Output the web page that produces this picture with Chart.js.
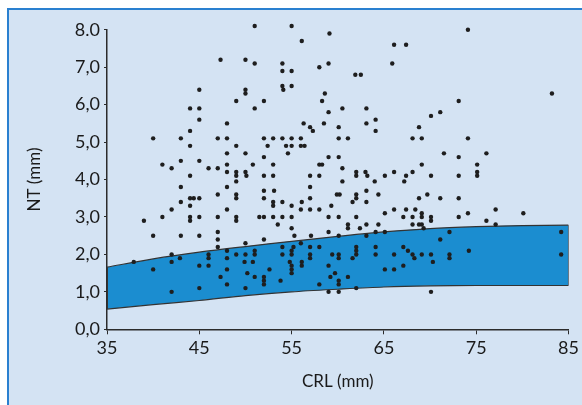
<!DOCTYPE html>
<html>
<head>
<meta charset="utf-8">
<script src="https://cdn.jsdelivr.net/npm/chart.js@4/dist/chart.umd.min.js"></script>
<style>
  body { margin: 0; background: #fff; }
  #wrap { width: 582px; height: 405px; }
</style>
</head>
<body>
<div id="wrap"><canvas id="chart" width="582" height="405"></canvas></div>
<script>
// scatter points: CRL (mm) and NT (mm)
const crl = [
  51,47.3,50,51,45,50,50,44,45,49,51,45,48,44,40,43,47,48,44,49,48,50,43,45,41,42,46,47,48,50.8,44,48,49,49,50,50.1,
  55,56.1,59.1,66.1,67.4,54,54,55,58,59,65.9,54,54.1,55,61.9,62.5,52,58.6,58.3,59,60.5,63.1,64.1,63.1,64.1,68.8,56.3,57,57.3,58.5,60.1,
  52,53,54,55,56,60.1,61.1,68.1,52.4,54.4,55,56,56.4,54.6,52,59,60.1,53,58,58.3,60.5,52,53,57,58,62,62,63,63.2,65.1,66.1,67.4,68.1,
  74.1,83.2,73.1,70.1,71.1,69.1,74.1,71.5,73.1,76.1,69.1,75.1,70.1,73.1,75.1,75.1,
  49,43,48,43,44,44.4,45,44,47,49,49,42,48,39,41,44,44,45,47,49,49,51.5,40,43,45,47,47,47,42,42.9,37.9,42,40,45,46,46,46,
  48,48,48,48,47.3,49,50,50,49.9,50.2,51,51,50.8,51,50,42,45,
  60.5,64,67.2,52,53.1,57,59.9,60.2,62,62,63.1,64.4,52,53,53,54,56.1,55,57,59.3,61.6,63.1,68.8,56,57,58,66.1,67.4,68.4,65.1,
  52,53,54,55,59,60.1,62,67.1,68.1,53.5,55,61.1,61.1,62.4,63.1,64.4,68.1,68.8,52,55.3,57.1,59,60.1,63.1,64.1,65.1,56,
  54,54,55.2,55,55,57,58,57,57,59.4,60.1,60.1,62,62,62,61.6,64.1,64.1,66.1,67.1,67.6,68.1,68.3,
  52.6,54.8,55,55,55,56.1,56.1,59,59.7,59.2,61.1,65.1,66.1,67.1,52,52,52,53.8,58,60.1,60.1,62,59,60.1,
  69.7,71.1,73.1,69.1,69.1,70.1,70.1,73.1,74.1,77.1,80.1,76.1,77.1,69.1,69.3,72.1,71.1,74.2,69.1,70.1,70.3,72.1,72.1,84.2,84.2,70.1
];
const nt = [
  8.1,7.2,7.2,7.1,6.4,6.4,6.3,5.9,5.9,6.1,5.9,5.6,5.5,5.3,5.1,5.1,5.1,5.1,4.9,4.9,4.7,4.7,4.5,4.5,4.4,4.3,4.3,4.3,4.4,4.4,4.1,4.2,4.2,4.1,4.2,4.1,
  8.1,7.7,7.9,7.6,7.6,7.1,6.9,6.9,7.0,7.1,7.1,6.5,6.4,6.5,6.8,6.8,6.1,6.3,6.1,5.8,5.9,5.9,5.6,5.5,5.3,5.4,5.5,5.4,5.3,5.5,5.4,
  5.1,5.1,5.1,5.1,5.1,5.1,5.1,5.1,4.9,4.9,4.9,4.9,4.9,4.7,4.6,4.6,4.6,4.4,4.4,4.4,4.3,4.1,4.1,4.1,4.1,4.2,4.1,4.2,4.1,4.1,4.2,4.1,4.2,
  8.0,6.3,6.1,5.7,5.8,5.1,5.1,4.7,4.6,4.7,4.4,4.4,4.1,4.1,4.2,4.1,
  3.95,3.8,3.8,3.4,3.5,3.5,3.5,3.3,3.6,3.6,3.5,3.2,3.2,2.9,3.0,3.0,2.9,3.0,3.0,3.0,2.9,3.0,2.5,2.5,2.5,2.6,2.4,2.2,2.0,1.9,1.8,1.8,1.6,1.7,2.0,1.9,1.7,
  2.1,1.9,1.6,1.2,1.4,2.0,2.3,2.0,1.8,1.5,2.1,2.0,1.8,1.4,1.1,1.0,1.1,
  3.95,3.95,3.95,3.7,3.7,3.8,3.6,3.6,3.6,3.5,3.7,3.6,3.5,3.4,3.3,3.4,3.4,3.3,3.5,3.3,3.4,3.4,3.5,3.2,3.2,3.2,3.2,3.2,3.2,3.1,
  3.0,3.0,3.0,3.0,3.0,3.0,3.0,3.0,3.0,2.8,2.7,2.8,2.7,2.7,2.8,2.8,2.8,2.8,2.4,2.5,2.5,2.6,2.5,2.5,2.6,2.6,2.3,
  2.2,2.0,2.2,2.1,2.0,2.2,2.2,2.0,1.9,2.0,2.0,1.9,2.2,2.1,2.0,1.9,2.2,2.0,2.0,2.2,2.1,2.0,1.9,
  1.6,1.8,1.7,1.6,1.5,1.8,1.7,1.7,1.5,1.4,1.4,1.6,1.6,1.7,1.4,1.3,1.2,1.3,1.2,1.3,1.2,1.1,1.0,1.0,
  3.6,3.5,3.5,3.1,3.0,3.0,2.9,3.0,3.1,3.2,3.1,2.9,2.8,2.8,2.7,2.6,2.4,2.1,2.0,2.0,1.8,2.0,1.9,2.6,2.0,1.0
];

// reference band (upper and lower limits)
const bandCrl = [35, 40, 45, 50, 55, 60, 65, 70, 75, 80, 85];
const bandUpper = [1.66, 1.88, 2.06, 2.21, 2.35, 2.48, 2.60, 2.69, 2.74, 2.77, 2.78];
const bandLower = [0.54, 0.66, 0.77, 0.90, 1.00, 1.07, 1.13, 1.16, 1.17, 1.17, 1.17];

const xTicks = [35, 45, 55, 65, 75, 85];
const yTickLabels = ["0,0", "1,0", "2,0", "3,0", "4,0", "5,0", "6,0", "7,0", "8.0"];

const points = crl.map((x, i) => ({ x: x, y: nt[i] }));
const lower = bandCrl.map((x, i) => ({ x: x, y: bandLower[i] }));
const upper = bandCrl.map((x, i) => ({ x: x, y: bandUpper[i] }));
const last = bandCrl.length - 1;

const panel = {
  id: "panel",
  beforeDraw(chart) {
    const ctx = chart.ctx;
    ctx.save();
    ctx.fillStyle = "#ffffff";
    ctx.fillRect(0, 0, chart.width, chart.height);
    ctx.fillStyle = "#d4e3f3";
    ctx.fillRect(7, 8, chart.width - 7, chart.height - 8);
    ctx.strokeStyle = "#2a80d0";
    ctx.lineWidth = 2;
    ctx.beginPath();
    ctx.moveTo(8, chart.height);
    ctx.lineTo(8, 9);
    ctx.lineTo(chart.width, 9);
    ctx.stroke();
    ctx.restore();
  }
};

const axisColor = "#2b2b2b";
const tickFont = { family: "Lato", size: 18 };
const titleFont = { family: "Lato", size: 17 };

new Chart(document.getElementById("chart"), {
  type: "scatter",
  data: {
    datasets: [
      {
        label: "lower",
        data: lower,
        showLine: true,
        pointRadius: 0,
        borderColor: "#333",
        borderWidth: 1.2,
        tension: 0.3,
        fill: false,
        order: 2
      },
      {
        label: "upper",
        data: upper,
        showLine: true,
        pointRadius: 0,
        borderColor: "#333",
        borderWidth: 1.2,
        tension: 0.3,
        backgroundColor: "#1b8dd0",
        fill: "-1",
        order: 2
      },
      {
        label: "left edge",
        data: [lower[0], upper[0]],
        showLine: true,
        pointRadius: 0,
        borderColor: "#333",
        borderWidth: 2,
        order: 1
      },
      {
        label: "right edge",
        data: [lower[last], upper[last]],
        showLine: true,
        pointRadius: 0,
        borderColor: "#333",
        borderWidth: 1.2,
        order: 1
      },
      {
        label: "NT",
        data: points,
        pointRadius: 2.2,
        pointBackgroundColor: "#1e1e1e",
        pointBorderWidth: 0,
        clip: false,
        order: 0
      }
    ]
  },
  options: {
    responsive: false,
    animation: false,
    layout: { padding: { top: 29.8, right: 13, bottom: 0, left: 0 } },
    plugins: { legend: { display: false }, tooltip: { enabled: false } },
    scales: {
      x: {
        type: "linear",
        min: 35,
        max: 85,
        afterFit: (scale) => { scale.height = 405 - 329.3; },
        afterBuildTicks: (scale) => { scale.ticks = xTicks.map((v) => ({ value: v })); },
        ticks: { color: "#1a1a1a", font: tickFont, padding: 3 },
        grid: { display: true, drawOnChartArea: false, drawTicks: true, tickLength: 5, color: axisColor },
        border: { display: true, color: axisColor, width: 1.5 },
        title: { display: true, text: "CRL (mm)", color: "#1a1a1a", font: titleFont, padding: { bottom: 13 } }
      },
      y: {
        min: 0,
        max: 8,
        afterFit: (scale) => { scale.width = 107; },
        ticks: {
          stepSize: 1,
          color: "#1a1a1a",
          font: tickFont,
          padding: 4,
          callback: (v) => yTickLabels[v]
        },
        grid: { display: true, drawOnChartArea: false, drawTicks: true, tickLength: 3, color: axisColor },
        border: { display: true, color: axisColor, width: 1.5 },
        title: { display: true, text: "NT (mm)", color: "#1a1a1a", font: titleFont, padding: { top: 24 } }
      }
    }
  },
  plugins: [panel]
});
</script>
</body>
</html>
